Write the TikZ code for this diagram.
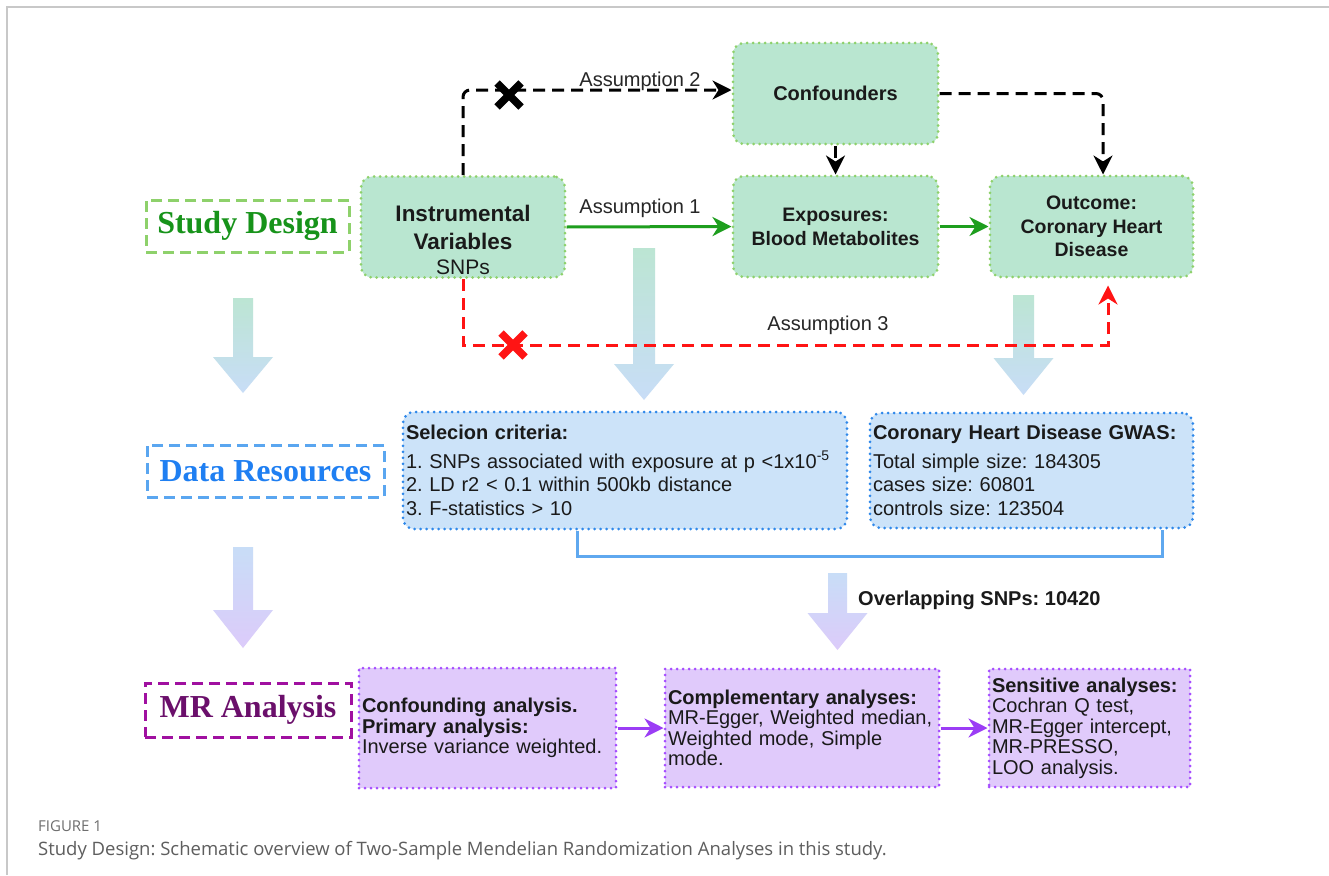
\documentclass[tikz,border=0pt]{standalone}
\usepackage{fontspec}
\setmainfont{Liberation Sans}
\newfontfamily\tmsfont{Liberation Serif}
\newfontfamily\capfont{Open Sans}
\usetikzlibrary{arrows.meta}
\frenchspacing
\definecolor{mint}{HTML}{B9E6D0}
\definecolor{dotgreen}{HTML}{8ED16B}
\definecolor{sdgreen}{HTML}{17931A}
\definecolor{sddash}{HTML}{8ED16B}
\definecolor{arrgreen}{HTML}{1E9E1E}
\definecolor{lblue}{HTML}{CCE3F9}
\definecolor{dotblue}{HTML}{2F88EA}
\definecolor{drblue}{HTML}{1F7FF2}
\definecolor{dashblue}{HTML}{5AA6F0}
\definecolor{brblue}{HTML}{5FA8EF}
\definecolor{lpurple}{HTML}{E0CAFB}
\definecolor{dotpurple}{HTML}{A64DFF}
\definecolor{mrpurple}{HTML}{6B0F6B}
\definecolor{dashpurple}{HTML}{A010A0}
\definecolor{arrpurple}{HTML}{9B3DF5}
\definecolor{xred}{HTML}{FF1414}
\definecolor{txt}{HTML}{1A1A1A}
\definecolor{lblgray}{HTML}{262626}
\definecolor{framegray}{HTML}{C8C8C8}
\definecolor{capgray}{HTML}{5E5E5E}
\definecolor{figgray}{HTML}{6E6E6E}
\definecolor{shgreen}{HTML}{BCE5D3}
\definecolor{shblue}{HTML}{C8DDF7}
\definecolor{shpurple}{HTML}{DCCBFA}
\newcommand\bigarr[7]{%
  \shade[top color=#6,bottom color=#7] (#1-#5,#2) -- (#1+#5,#2) -- (#1+#5,#3) -- (#1+30,#3) -- (#1,#4) -- (#1-30,#3) -- (#1-#5,#3) -- cycle;}
\begin{document}
\begin{tikzpicture}[x=1pt,y=-1pt,
  sbox/.style={line width=3pt, dash pattern=on 11pt off 6pt, inner sep=0pt,
    font=\tmsfont\bfseries\fontsize{32}{36}\selectfont},
  topbox/.style={draw=dotgreen, fill=mint, rounded corners=11pt, line width=3pt,
    dash pattern=on 0pt off 6pt, line cap=round, minimum height=101pt, inner sep=0pt,
    align=center, text=txt, font=\bfseries\fontsize{20}{24}\selectfont},
  midbox/.style={draw=dotblue, fill=lblue, rounded corners=11pt, line width=3pt,
    dash pattern=on 0pt off 6pt, line cap=round, inner xsep=3pt, inner ysep=0pt,
    align=left, text=txt, font=\fontsize{20}{23.5}\selectfont},
  botbox/.style={draw=dotpurple, fill=lpurple, line width=3pt,
    dash pattern=on 0pt off 6pt, line cap=round, inner xsep=3pt, inner ysep=0pt,
    align=left, text=txt, minimum height=118pt, font=\fontsize{20}{20.5}\selectfont},
  tip/.style={-{Stealth[length=19pt,width=19pt,inset=6pt]}},
  garr/.style={draw=arrgreen, line width=3pt, tip},
  bdash/.style={draw=black, line width=3pt, dash pattern=on 12pt off 7pt, tip},
  rdash/.style={draw=xred, line width=3pt, dash pattern=on 12pt off 7pt, tip},
  parr/.style={draw=arrpurple, line width=3pt, tip},
  lbl/.style={font=\fontsize{20}{24}\selectfont, text=lblgray, inner sep=0pt},
  xmark/.style={line width=7.5pt}
]
\useasboundingbox (0,0) rectangle (1329,875);
\fill[white] (0,0) rectangle (1329,875);
\draw[framegray, line width=1.5pt] (7,875) -- (7,7) -- (1329,7);

% big gradient arrows
\bigarr{243}{298}{357}{393}{10}{shgreen}{shblue}
\bigarr{644}{248}{364}{400}{11}{shgreen}{shblue}
\bigarr{1023.5}{295}{358}{395}{10.5}{shgreen}{shblue}
\bigarr{243}{547}{610}{648}{10}{shblue}{shpurple}
\bigarr{837.5}{573}{613}{650}{9.5}{shblue}{shpurple}

% section labels
\node[sbox, draw=sddash, text=sdgreen, minimum width=203pt, minimum height=52pt] (sd) at (247.5,226) {Study Design};
\node[sbox, draw=dashblue, text=drblue, minimum width=237pt, minimum height=52pt] (dr) at (265.5,471) {Data Resources};
\node[sbox, draw=dashpurple, text=mrpurple, minimum width=206pt, minimum height=54pt] (mr) at (248,710) {MR Analysis};

% top boxes
\node[topbox, minimum width=204pt, font=\bfseries\fontsize{22.5}{28}\selectfont] (iv) at (463,227) {Instrumental\\Variables};
\node[lbl, font=\fontsize{21}{24}\selectfont, text=txt] (snps) at (463,267) {SNPs};
\node[topbox, minimum width=205pt] (conf) at (835.5,93.5) {Confounders};
\node[topbox, minimum width=205pt, font=\bfseries\fontsize{19.5}{24}\selectfont] (exp) at (835.5,226.5) {Exposures:\\Blood Metabolites};
\node[topbox, minimum width=203pt, font=\bfseries\fontsize{19.5}{23.5}\selectfont] (out) at (1091.5,226.5) {Outcome:\\Coronary Heart\\Disease};

% data boxes
\node[midbox, text width=438pt, minimum height=117pt] (sel) at (625,470.5)
  {\textbf{Selecion criteria:}\\[5pt]1. SNPs associated with exposure at p <1x10\textsuperscript{-5}\\2. LD r2 < 0.1 within 500kb distance\\3. F-statistics > 10};
\node[midbox, text width=317pt, minimum height=115pt] (gwas) at (1031.5,470.5)
  {\textbf{Coronary Heart Disease GWAS:}\\[5pt]Total simple size: 184305\\cases size: 60801\\controls size: 123504};

% analysis boxes
\node[botbox, text width=251pt, minimum height=120pt] (b1) at (487.5,728)
  {\textbf{Confounding analysis.}\\\textbf{Primary analysis:}\\Inverse variance weighted.};
\node[botbox, text width=268pt] (b2) at (802,728)
  {\textbf{Complementary analyses:}\\MR-Egger, Weighted median,\\Weighted mode, Simple\\mode.};
\node[botbox, text width=195pt, inner xsep=3pt] (b3) at (1089.5,728)
  {\textbf{Sensitive analyses:}\\Cochran Q test,\\MR-Egger intercept,\\MR-PRESSO,\\LOO analysis.};

% helper coordinates
\coordinate (a2) at (0,90);
\coordinate (oc) at (1103,0);
\coordinate (r3) at (1108,345);
\coordinate (k1) at (577,556);
\coordinate (k2) at (1162,556);

% connectors
\draw[garr] (iv.east) -- (exp.west);
\draw[garr] (exp.east) -- (out.west);
\draw[bdash] (conf.south) -- (exp.north);
\draw[bdash, rounded corners=7pt] (conf.east) -| (out.north -| oc);
\draw[bdash, rounded corners=7pt] (iv.north) |- (conf.west |- a2);
\draw[rdash, shorten >=7pt] (iv.south) |- (r3) -- (out.south -| r3);
\draw[brblue, line width=3pt] (sel.south -| k1) -- (k1) -- (k2) -- (gwas.south -| k2);
\draw[parr] (b1) -- (b2);
\draw[parr] (b2) -- (b3);

% cross marks
\draw[xmark, black] (497,83) -- (521,107) (497,107) -- (521,83);
\draw[xmark, xred] (501,333) -- (525,357) (501,357) -- (525,333);

% labels
\node[lbl] (as2) at (640,81) {Assumption 2};
\node[lbl] (as1) at (640,208) {Assumption 1};
\node[lbl] (as3) at (828,325) {Assumption 3};
\node[lbl, anchor=west, text=txt, font=\bfseries\fontsize{20}{24}\selectfont] (ovl) at (858,600) {Overlapping SNPs: 10420};

% caption
\node[anchor=west, inner sep=0pt, font=\capfont\fontsize{15}{18}\selectfont, text=figgray] (fig) at (38,826) {FIGURE 1};
\node[anchor=west, inner sep=0pt, font=\capfont\fontsize{18.5}{22}\selectfont, text=capgray] (cap) at (38,851) {Study Design: Schematic overview of Two-Sample Mendelian Randomization Analyses in this study.};
\end{tikzpicture}
\end{document}
